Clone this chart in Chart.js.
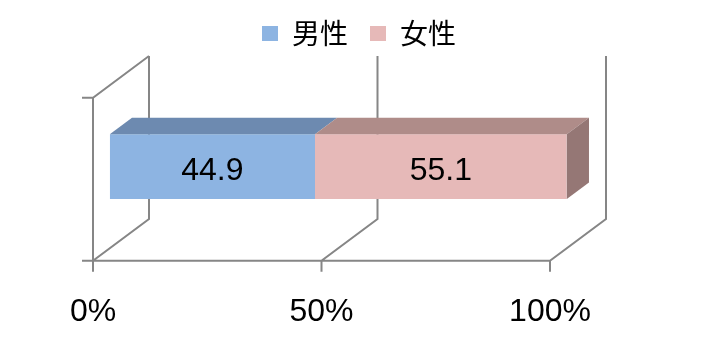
<!DOCTYPE html>
<html>
<head>
<meta charset="utf-8">
<script src="https://cdn.jsdelivr.net/npm/chart.js@4.4.0/dist/chart.umd.min.js"></script>
<style>
  html, body { margin: 0; padding: 0; background: #fff; }
  #wrap { width: 708px; height: 347px; }
</style>
</head>
<body>
<div id="wrap"><canvas id="chart" width="708" height="347"></canvas></div>
<script>
// datos
const categories = [''];
const seriesNames = ['男性', '女性'];
const maleValues = [44.9];
const femaleValues = [55.1];
const tickValues = [0, 50, 100];

// perspectiva 3D (estilo Excel)
const DX = 56, DY = 41.7;       // desplazamiento de la pared del fondo
const FRONT = 0.30, BACK = 0.696; // profundidad de la barra
const TICK = 11;

function poly(ctx, pts, color) {
    ctx.beginPath();
    ctx.moveTo(pts[0][0], pts[0][1]);
    for (let i = 1; i < pts.length; i++) ctx.lineTo(pts[i][0], pts[i][1]);
    ctx.closePath();
    ctx.fillStyle = color;
    ctx.fill();
}

const bar3d = {
    id: 'bar3d',
    beforeUpdate(chart) {
        const lg = chart.legend;
        if (lg && !lg._patched) {
            const fit = lg.fit;
            lg.fit = function () { fit.call(this); this.height = 97.7; };
            lg._patched = true;
        }
    },
    afterLayout(chart) {
        chart.legend.left = 10;
        chart.legend.right = 708;
        chart.legend.top = -2.5;
    },
    beforeDatasetsDraw(chart) {
        const { ctx, chartArea: { left, right, top, bottom }, scales: { x } } = chart;
        ctx.save();
        ctx.strokeStyle = '#868686';
        ctx.lineWidth = 2;
        ctx.beginPath();
        tickValues.forEach(v => {
            const px = x.getPixelForValue(v);
            ctx.moveTo(px + DX, top - DY);
            ctx.lineTo(px + DX, bottom - DY);
            ctx.lineTo(px, bottom);
            ctx.lineTo(px, bottom + TICK);
        });
        ctx.moveTo(left - TICK, bottom);
        ctx.lineTo(right, bottom);
        ctx.moveTo(left - TICK, top);
        ctx.lineTo(left, top);
        ctx.lineTo(left + DX, top - DY);
        ctx.moveTo(left, top);
        ctx.lineTo(left, bottom);
        ctx.stroke();
        ctx.restore();

        // la cara frontal de la barra va desplazada hacia el fondo
        ctx.save();
        ctx.translate(FRONT * DX, -FRONT * DY);
    },
    afterDatasetsDraw(chart) {
        const ctx = chart.ctx;
        ctx.restore();
        const fx = FRONT * DX, fy = -FRONT * DY, bx = BACK * DX, by = -BACK * DY;
        const n = chart.data.datasets.length;
        chart.data.datasets.forEach((ds, i) => {
            const meta = chart.getDatasetMeta(i);
            meta.data.forEach((bar, j) => {
                const { x, base, y, height } = bar.getProps(['x', 'base', 'y', 'height'], true);
                const t = y - height / 2, b = y + height / 2;
                const l = Math.min(x, base), r = Math.max(x, base);
                poly(ctx, [[l + fx, t + fy], [r + fx, t + fy], [r + bx, t + by], [l + bx, t + by]], ds.topColor);
                if (i === n - 1) {
                    poly(ctx, [[r + fx, t + fy], [r + bx, t + by], [r + bx, b + by], [r + fx, b + fy]], ds.sideColor);
                }
                ctx.save();
                ctx.fillStyle = '#000';
                ctx.font = '32px "Liberation Sans", Arial, sans-serif';
                ctx.textAlign = 'center';
                ctx.textBaseline = 'alphabetic';
                ctx.fillText(ds.data[j].toFixed(1), (l + r) / 2 + fx, y + fy + 13.3);
                ctx.restore();
            });
        });
    }
};

const ctx = document.getElementById('chart').getContext('2d');
new Chart(ctx, {
    type: 'bar',
    data: {
        labels: categories,
        datasets: [{
            label: seriesNames[0],
            data: maleValues,
            backgroundColor: '#8DB4E2',
            topColor: '#6D8AB0',
            sideColor: '#5F7899'
        }, {
            label: seriesNames[1],
            data: femaleValues,
            backgroundColor: '#E6B9B8',
            topColor: '#AF8C89',
            sideColor: '#957775'
        }]
    },
    options: {
        indexAxis: 'y',
        responsive: false,
        animation: false,
        devicePixelRatio: 1,
        layout: { padding: { left: 93, right: 158, top: 0, bottom: 0 } },
        datasets: { bar: { categoryPercentage: 1, barPercentage: 0.397 } },
        scales: {
            x: {
                stacked: true,
                min: 0,
                max: 100,
                afterBuildTicks: s => { s.ticks = tickValues.map(v => ({ value: v })); },
                afterFit: s => { s.height = 347 - 260.7; },
                ticks: {
                    callback: v => v + '%',
                    font: { family: '"Liberation Sans", Arial, sans-serif', size: 32 },
                    color: '#000',
                    padding: 32,
                    maxRotation: 0,
                    autoSkip: false
                },
                grid: { display: false, drawTicks: false, tickLength: 0 },
                border: { display: false }
            },
            y: { stacked: true, display: false }
        },
        plugins: {
            legend: {
                position: 'top',
                labels: {
                    boxWidth: 16,
                    boxHeight: 15,
                    padding: 22,
                    color: '#000',
                    font: { family: '"Noto Sans CJK JP", "Noto Sans CJK SC", sans-serif', size: 28 }
                }
            },
            tooltip: { enabled: false }
        }
    },
    plugins: [bar3d]
});
</script>
</body>
</html>
